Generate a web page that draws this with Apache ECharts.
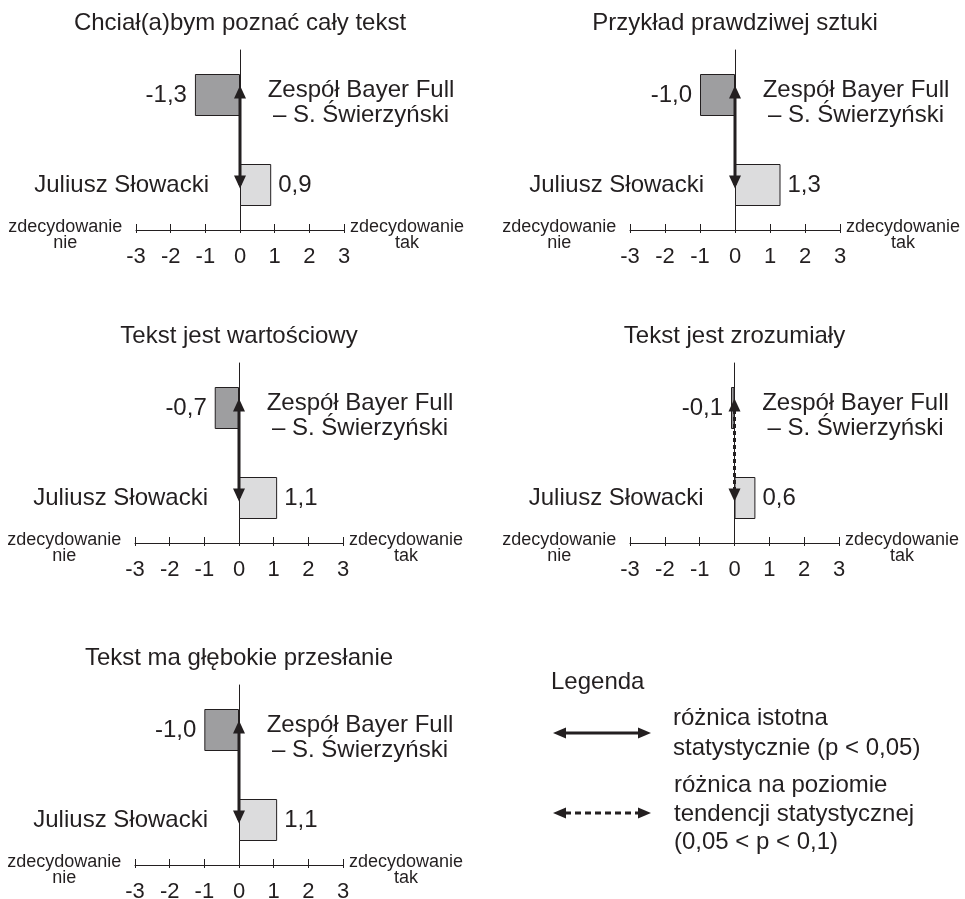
<!DOCTYPE html>
<html><head><meta charset="utf-8">
<script src="https://cdn.jsdelivr.net/npm/echarts@6/dist/echarts.min.js"></script>
<style>html,body{margin:0;padding:0;background:#fff}#c{width:965px;height:899px}</style>
</head><body><div id="c"></div>
<script>
// ---- data ----
const panelTitles = ['Chciał(a)bym poznać cały tekst', 'Przykład prawdziwej sztuki', 'Tekst jest wartościowy', 'Tekst jest zrozumiały', 'Tekst ma głębokie przesłanie'];
const categories = ['Juliusz Słowacki', 'Zespół Bayer Full\n– S. Świerzyński'];
const slowackiValues = [0.9, 1.3, 1.1, 0.6, 1.1];
const bayerFullValues = [-1.3, -1.0, -0.7, -0.1, -1.0];
const differenceType = ['solid', 'solid', 'solid', 'dashed', 'solid'];
const axisMin = -3, axisMax = 3, axisStep = 1;
const axisEndLabels = ['zdecydowanie\nnie', 'zdecydowanie\ntak'];
const legendTitle = 'Legenda';
const legendLabels = ['różnica istotna\nstatystycznie (p < 0,05)', 'różnica na poziomie\ntendencji statystycznej\n(0,05 < p < 0,1)'];

// ---- style / layout ----
const FONT = "'Liberation Sans', Arial, Helvetica, sans-serif";
const INK = '#231f20';
const DARK = '#9e9ea0';
const LIGHT = '#dcdcdd';
const panels = [
  { left: 136, width: 208, axisY: 230 },
  { left: 630, width: 210, axisY: 230 },
  { left: 135, width: 208, axisY: 543 },
  { left: 630, width: 209, axisY: 543 },
  { left: 135, width: 208, axisY: 865 }
];
const PH = 180;
const fmt = v => v.toFixed(1).replace('.', ',');
// rich text with a small spacer line on top (shifts the block downward)
const shifted = txt => '{s| }\n' + txt.split('\n').map(l => '{a|' + l + '}').join('\n');

const option = {
  animation: false,
  backgroundColor: '#fff',
  textStyle: { fontFamily: FONT, color: INK },
  title: [], grid: [], xAxis: [], yAxis: [], series: [],
  graphic: []
};

panels.forEach((p, i) => {
  const zeroOffset = p.width * (0 - axisMin) / (axisMax - axisMin);
  const zeroX = p.left + zeroOffset;
  option.title.push({
    text: panelTitles[i], left: zeroX, top: p.axisY - PH - 39, textAlign: 'center', padding: 0,
    textStyle: { fontFamily: FONT, fontSize: 24, fontWeight: 'normal', color: INK }
  });
  option.grid.push({ left: p.left, width: p.width, top: p.axisY - PH, height: PH, containLabel: false, outerBoundsMode: 'none' });
  const xBase = {
    type: 'value', gridIndex: i, min: axisMin, max: axisMax, interval: axisStep, position: 'bottom',
    splitLine: { show: false }
  };
  const nameStyle = {
    fontFamily: FONT, fontSize: 18, color: INK, align: 'center', verticalAlign: 'middle',
    rich: {
      s: { fontFamily: FONT, fontSize: 10, lineHeight: 10, align: 'center' },
      a: { fontFamily: FONT, fontSize: 18, lineHeight: 16, color: INK, align: 'center' }
    }
  };
  option.xAxis.push(Object.assign({}, xBase, {
    axisLine: { show: true, lineStyle: { color: INK, width: 1 } },
    axisTick: { show: true, inside: true, length: 6, lineStyle: { color: INK } },
    axisLabel: { show: true, fontFamily: FONT, fontSize: 22, color: INK, margin: 16 },
    name: shifted(axisEndLabels[0]), nameLocation: 'start', nameGap: 68, nameTextStyle: nameStyle
  }));
  option.xAxis.push(Object.assign({}, xBase, {
    axisLine: { show: false },
    axisTick: { show: true, inside: false, length: 3, lineStyle: { color: INK } },
    axisLabel: { show: false },
    name: shifted(axisEndLabels[1]), nameLocation: 'end', nameGap: 63, nameTextStyle: nameStyle
  }));
  option.yAxis.push({
    type: 'category', gridIndex: i, data: categories, position: 'left', offset: -zeroOffset,
    axisLine: { show: true, onZero: false, lineStyle: { color: INK, width: 1 } },
    axisTick: { show: false }, splitLine: { show: false },
    axisLabel: { show: true, fontFamily: FONT, fontSize: 24, color: INK, margin: 31,
      formatter: v => (v === categories[0] ? v : '') }
  });
  option.yAxis.push({
    type: 'category', gridIndex: i, data: categories, position: 'left', offset: -zeroOffset,
    axisLine: { show: false, onZero: false },
    axisTick: { show: false }, splitLine: { show: false },
    axisLabel: { show: true, inside: true, fontFamily: FONT, fontSize: 24, color: INK, margin: 121,
      align: 'center',
      rich: {
        s: { fontFamily: FONT, fontSize: 10, lineHeight: 16, align: 'center' },
        a: { fontFamily: FONT, fontSize: 24, lineHeight: 25, color: INK, align: 'center' }
      },
      formatter: v => (v === categories[1] ? shifted(v) : '') }
  });
  option.series.push({
    type: 'bar', xAxisIndex: 2 * i, yAxisIndex: 2 * i, barWidth: 42, z: 2,
    label: { show: true, position: 'right', distance: 7, fontFamily: FONT, fontSize: 24, color: INK,
      formatter: prm => fmt(prm.value) },
    itemStyle: { borderColor: INK, borderWidth: 1 },
    data: [
      { value: slowackiValues[i], itemStyle: { color: LIGHT } },
      { value: bayerFullValues[i], itemStyle: { color: DARK }, label: { position: 'left', distance: 8 } }
    ]
  });
  option.series.push({
    type: 'line', xAxisIndex: 2 * i, yAxisIndex: 2 * i, z: 5, silent: true,
    symbol: 'triangle', symbolSize: [12, 13], showSymbol: true,
    itemStyle: { color: INK },
    lineStyle: { color: INK, width: 3, type: differenceType[i] === 'dashed' ? [4, 3] : 'solid' },
    data: [
      { value: [0, categories[0]], symbolRotate: 180, symbolOffset: [0, -3] },
      { value: [0, categories[1]], symbolRotate: 0, symbolOffset: [0, -3] }
    ]
  });
});

// legend (key)
function arrowKey(y, dashed) {
  const x1 = 553, x2 = 651, hl = 13, hw = 5.5;
  return [
    { type: 'line', shape: { x1: x1 + hl - 1, y1: y, x2: x2 - hl + 1, y2: y },
      style: { stroke: INK, lineWidth: 3, lineDash: dashed ? [6, 4] : null } },
    { type: 'polygon', shape: { points: [[x1, y], [x1 + hl, y - hw], [x1 + hl, y + hw]] }, style: { fill: INK } },
    { type: 'polygon', shape: { points: [[x2, y], [x2 - hl, y - hw], [x2 - hl, y + hw]] }, style: { fill: INK } }
  ];
}
option.graphic = [
  { type: 'text', x: 551, y: 682, style: { text: legendTitle, font: '24px ' + FONT, fill: INK, verticalAlign: 'middle' } },
  ...arrowKey(733, false),
  { type: 'text', x: 673, y: 733, style: { text: legendLabels[0], font: '24px ' + FONT, fill: INK, verticalAlign: 'middle', lineHeight: 30 } },
  ...arrowKey(813, true),
  { type: 'text', x: 674, y: 814, style: { text: legendLabels[1], font: '24px ' + FONT, fill: INK, verticalAlign: 'middle', lineHeight: 28.5 } }
];

const chart = echarts.init(document.getElementById('c'), null, { renderer: 'canvas' });
chart.setOption(option);
</script>
</body></html>
